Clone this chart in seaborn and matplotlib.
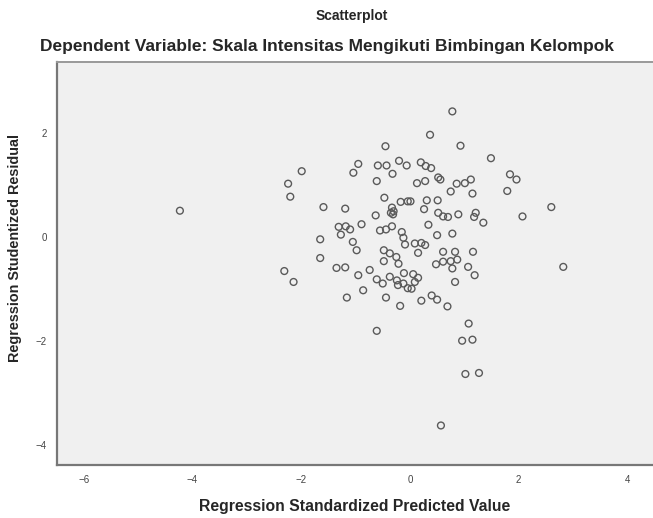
import matplotlib
matplotlib.use("Agg")
import matplotlib.pyplot as plt
import seaborn as sns
import pandas as pd

predicted = [
    -4.23, -2.24, -2.20, -1.99, -2.31, -2.14, -1.65, -1.65, -1.59, -1.19,
    -1.31, -1.18, -1.10, -1.27, -1.05, -0.98, -0.89, -1.35, -1.19, -0.95,
    -0.74, -0.61, -0.50, -0.86, -1.16, -0.44, -0.61, -0.95, -1.04, -0.45,
    -0.59, -0.43, -0.20, -0.06, -0.32, -0.61, -0.47, -0.17, -0.04, -0.33,
    -0.35, -0.30, -0.31, -0.63, -0.55, -0.44, -0.33, -0.15, -0.12, -0.09,
    -0.48, -0.37, -0.25, -0.48, -0.21, -0.37, -0.24, -0.22, -0.11, -0.04,
    -0.12, 0.03, 0.06, 0.15, 0.09, -0.18,
    0.78, 0.37, 0.93, 1.49, 0.20, 0.29, 0.39, 0.52, 0.56, 0.13,
    0.28, 0.86, 1.01, 1.12, 0.75, 1.15, 1.84, 1.96, 1.79, 0.01,
    0.31, 0.51, 0.26, 0.52, 0.61, 0.70, 0.89, 1.21, 1.18, 1.35,
    2.07, 2.60, 2.82, 0.34, 0.50, 0.78, 0.09, 0.21, 0.28, 0.15,
    0.61, 0.83, 1.16, 0.48, 0.61, 0.75, 0.87, 0.78, 1.07, 1.19,
    0.83, 0.21, 0.40, 0.50, 0.69, 1.08, 0.96, 1.15, 1.02, 1.27,
    0.57,
]
residual = [
    0.51, 1.03, 0.78, 1.27, -0.65, -0.86, -0.04, -0.40, 0.58, 0.55,
    0.20, 0.21, 0.15, 0.05, -0.09, -0.25, 0.25, -0.59, -0.58, -0.73,
    -0.63, -0.81, -0.89, -1.02, -1.16, -1.16, -1.80, 1.41, 1.24, 1.75,
    1.38, 1.38, 1.47, 1.38, 1.22, 1.08, 0.76, 0.68, 0.69, 0.57,
    0.47, 0.50, 0.44, 0.42, 0.13, 0.15, 0.21, 0.10, -0.01, -0.14,
    -0.25, -0.31, -0.38, -0.46, -0.51, -0.76, -0.83, -0.92, -0.69, -0.98,
    -0.89, -0.99, -0.71, -0.78, -0.86, -1.32,
    2.42, 1.97, 1.76, 1.52, 1.44, 1.37, 1.33, 1.15, 1.11, 1.04,
    1.08, 1.03, 1.04, 1.11, 0.88, 0.84, 1.21, 1.11, 0.89, 0.69,
    0.71, 0.71, 0.54, 0.47, 0.40, 0.39, 0.44, 0.47, 0.39, 0.28,
    0.40, 0.58, -0.57, 0.24, 0.04, 0.07, -0.12, -0.11, -0.15, -0.30,
    -0.28, -0.28, -0.28, -0.52, -0.47, -0.46, -0.43, -0.60, -0.57, -0.73,
    -0.86, -1.22, -1.12, -1.20, -1.33, -1.66, -1.99, -1.97, -2.63, -2.61,
    -3.62,
]
x_ticks = [-6, -4, -2, 0, 2, 4]
y_ticks = [-4, -2, 0, 2]

df = pd.DataFrame({"pred": predicted, "resid": residual})

sns.set_style("white")
plt.rcParams["font.family"] = ["Liberation Sans", "DejaVu Sans"]

fig = plt.figure(figsize=(6.53, 5.18), dpi=100)
ax = fig.add_axes([57 / 653, 53 / 518, 596 / 653, 403 / 518])
ax.set_facecolor("#f0f0f0")

sns.scatterplot(data=df, x="pred", y="resid", ax=ax, marker="o", s=24,
                facecolors="none", edgecolor="#5a5a5a", linewidth=1.0)

ax.set_xlim(-6.49, 4.47)
ax.set_ylim(-4.38, 3.37)
ax.set_xticks(x_ticks)
ax.set_yticks(y_ticks)
ax.tick_params(axis="both", labelsize=7, colors="#555555", length=4, width=0.8, direction="out")
for lab in ax.get_xticklabels() + ax.get_yticklabels():
    lab.set_color("#444444")

for side in ["left", "bottom"]:
    ax.spines[side].set_color("#777777")
    ax.spines[side].set_linewidth(1.6)
ax.spines["top"].set_color("#999999")
ax.spines["top"].set_linewidth(1.4)
ax.spines["right"].set_visible(False)

ax.set_xlabel("Regression Standardized Predicted Value", fontsize=11.3, fontweight="bold")
ax.set_ylabel("Regression Studentized Residual", fontsize=10.4, fontweight="bold")
ax.yaxis.set_label_coords(-(57 - 22) / 596, (518 - 53 - 248) / 403)
ax.xaxis.set_label_coords((355 - 57) / 596, -(499 - 465) / 403)

fig.text(352 / 653, 1 - 16 / 518, "Scatterplot", ha="center", va="center", fontsize=10, fontweight="bold")
fig.text(327 / 653, 1 - 47 / 518, "Dependent Variable: Skala Intensitas Mengikuti Bimbingan Kelompok",
         ha="center", va="center", fontsize=12.5, fontweight="bold")

fig.savefig("out.png", dpi=100, facecolor="white")
